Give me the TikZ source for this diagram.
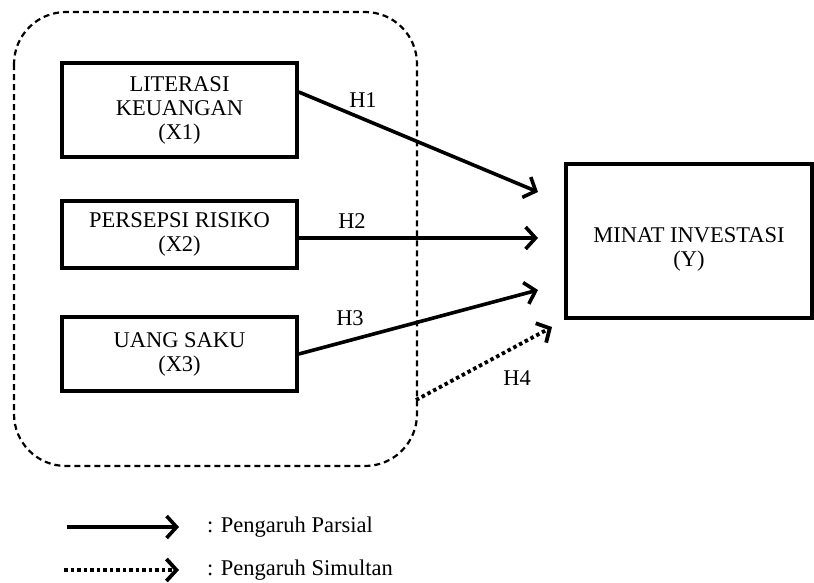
\documentclass[tikz,border=0pt]{standalone}
\usepackage{fontspec}
\setmainfont{Liberation Serif}
\usetikzlibrary{arrows.meta, positioning}

\tikzset{
  varbox/.style={draw, line width=3.6pt, align=center, inner sep=0pt},
  partial/.style={line width=3.6pt, -{Straight Barb[length=10pt,width=22pt]}},
  simultan/.style={line width=3.8pt, dash pattern=on 3.5pt off 3pt,
    -{Straight Barb[length=10pt,width=22pt]}},
  hlabel/.style={inner sep=0pt}
}

\begin{document}
\begin{tikzpicture}[x=1pt, y=-1pt, font=\fontsize{22.5}{24}\selectfont]
  \useasboundingbox (0,0) rectangle (814,582);
  % group of independent variables
  \draw[line width=2.2pt, dash pattern=on 6pt off 4pt, rounded corners=52pt]
    (14,12) rectangle (417,466);

  % variables
  \node[varbox, minimum width=235pt, minimum height=94pt] (x1) at (179.5,110)
    {LITERASI\\KEUANGAN\\(X1)};
  \node[varbox, minimum width=235pt, minimum height=67pt] (x2) at (179.5,234.5)
    {PERSEPSI RISIKO\\(X2)};
  \node[varbox, minimum width=235pt, minimum height=74pt] (x3) at (179.5,354)
    {UANG SAKU\\(X3)};
  \node[varbox, minimum width=246pt, minimum height=154pt,
        text height=52pt, text depth=2pt] (y) at (689,241)
    {MINAT INVESTASI\\(Y)};

  % arrow ends
  \coordinate (t1) at (538,192);
  \coordinate (t2) at (538,238);
  \coordinate (t3) at (538,290);
  \coordinate (t4) at (552,327);
  \coordinate (s4) at (416,400);

  \draw[partial] ([yshift=18pt]x1.east) -- (t1);
  \draw[partial] ([yshift=-3.5pt]x2.east) -- (t2);
  \draw[partial] (x3.east) -- (t3);
  \draw[simultan] (s4) -- (t4);

  \node[hlabel] (h1) at (363,100) {H1};
  \node[hlabel] (h2) at (352,221) {H2};
  \node[hlabel] (h3) at (350,318) {H3};
  \node[hlabel] (h4) at (517,378) {H4};

  % legend
  \node[anchor=west, inner sep=0pt] (lgpar) at (207,527) {: Pengaruh Parsial};
  \node[anchor=west, inner sep=0pt] (lgsim) at (207,570) {: Pengaruh Simultan};
  \draw[partial] ([xshift=-140pt]lgpar.west) -- ([xshift=-28pt]lgpar.west);
  \draw[simultan] ([xshift=-143pt]lgsim.west) -- ([xshift=-28pt]lgsim.west);
\end{tikzpicture}
\end{document}
